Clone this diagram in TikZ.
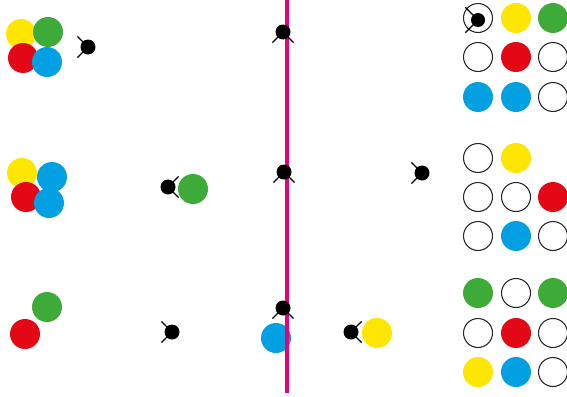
\documentclass[tikz,border=0pt]{standalone}
\definecolor{ballyellow}{RGB}{255,230,0}
\definecolor{ballgreen}{RGB}{62,170,55}
\definecolor{ballred}{RGB}{228,8,22}
\definecolor{ballblue}{RGB}{0,160,227}
\definecolor{wallpink}{RGB}{230,0,126}
\tikzset{
  ball/.style={circle,inner sep=0pt,minimum size=0.6cm},
  slot/.style={circle,draw=black!85,line width=0.6pt,inner sep=0pt,minimum size=0.58cm},
  leg/.style={line width=0.7pt,black},
}
% a critter: dot at (#1,#2), legs pointing to heading #3
\newcommand{\critter}[3]{%
  \draw[leg] (#1,#2) -- ++(#3+45:0.3cm) (#1,#2) -- ++(#3-45:0.3cm);
  \fill[black] (#1,#2) circle (0.15cm);}
\begin{document}
\begin{tikzpicture}[x=0.02cm,y=-0.02cm]
\useasboundingbox (0,0) rectangle (567,396);
% left groups
\foreach \x/\y/\c/\n in {21/34/ballyellow/ya,48/32/ballgreen/ga,23/58/ballred/ra,47/62/ballblue/ba,
  22/173/ballyellow/yb,52/177/ballblue/bb,26/197/ballred/rb,49/203/ballblue/bc,
  47/307/ballgreen/gc,25/334/ballred/rc}
  \node[ball,fill=\c] (\n) at (\x,\y) {};
% balls near the wall
\node[ball,fill=ballgreen] (gd) at (193,189) {};
\node[ball,fill=ballblue] (bd) at (276,338) {};
\node[ball,fill=ballyellow] (yd) at (377,333) {};
% wall
\draw[wallpink,line width=2.2pt] (287,0) -- (287,393);
% critters
\critter{88}{47}{180}
\critter{283}{32}{270}
\critter{168}{187}{0}
\critter{284}{172}{270}
\critter{422}{173}{180}
\critter{172}{332}{180}
\critter{283}{308}{270}
\critter{351}{332}{0}
% right grids
\foreach \x/\y/\c/\n in {478/18/white/a1,516/18/ballyellow/a2,553/18/ballgreen/a3,
  478/57/white/a4,516/57/ballred/a5,553/57/white/a6,
  478/97/ballblue/a7,516/97/ballblue/a8,553/97/white/a9,
  478/158/white/b1,516/158/ballyellow/b2,
  478/197/white/b4,516/197/white/b5,553/197/ballred/b6,
  478/236/white/b7,516/236/ballblue/b8,553/236/white/b9,
  478/293/ballgreen/c1,516/293/white/c2,553/293/ballgreen/c3,
  478/333/white/c4,516/333/ballred/c5,553/333/white/c6,
  478/372/ballyellow/c7,516/372/ballblue/c8,553/372/white/c9}
  \node[ball,fill=\c] (\n) at (\x,\y) {};
\foreach \n in {a1,a4,a6,a9,b1,b4,b5,b7,b9,c2,c4,c6,c9}
  \node[slot] at (\n) {};
% critter inside the first slot
\draw[leg] (478,20) -- ++(135:0.36cm) (478,20) -- ++(225:0.36cm);
\fill[black] (478,20) circle (0.14cm);
\end{tikzpicture}
\end{document}
